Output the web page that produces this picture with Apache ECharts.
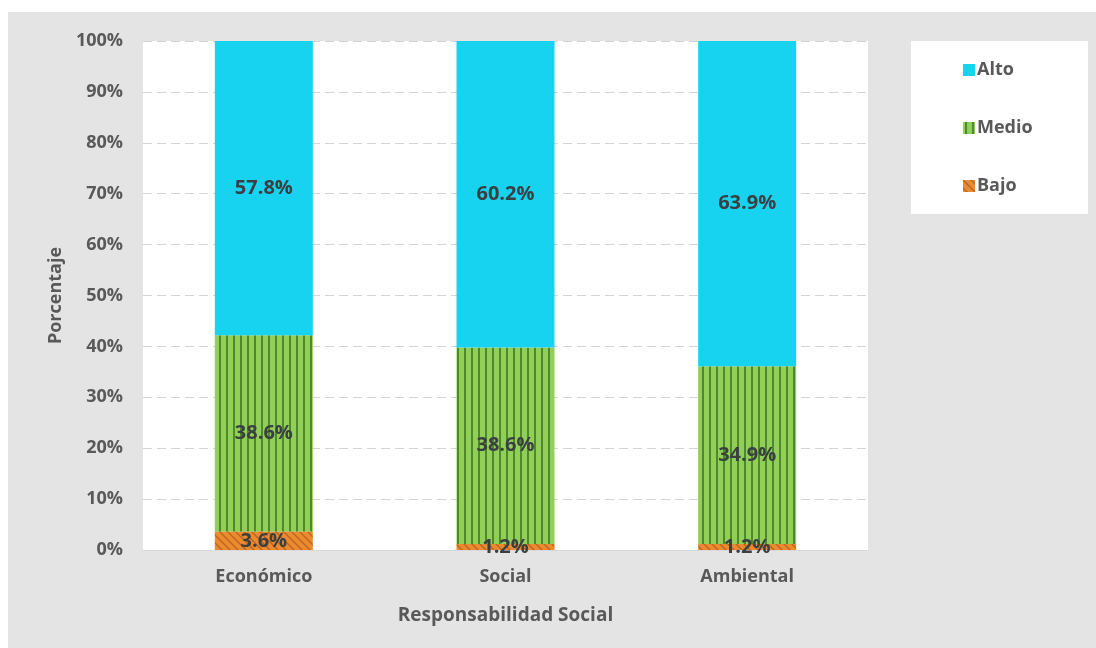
<!DOCTYPE html>
<html><head><meta charset="utf-8">
<script src="https://cdn.jsdelivr.net/npm/echarts@6/dist/echarts.min.js"></script>
<style>html,body{margin:0;padding:0;background:#fff}#c{width:1096px;height:648px}</style>
</head><body><div id="c"></div>
<script>
const categories = ['Económico', 'Social', 'Ambiental'];
const bajo = [3.6, 1.2, 1.2];
const medio = [38.6, 38.6, 34.9];
const alto = [57.8, 60.2, 63.9];
const seriesNames = ['Alto', 'Medio', 'Bajo'];

function stripePattern() {
  const c = document.createElement('canvas');
  c.width = 7; c.height = 7;
  const g = c.getContext('2d');
  g.fillStyle = '#92cf58'; g.fillRect(0, 0, 7, 7);
  g.fillStyle = '#4e8a2c'; g.fillRect(2, 0, 2, 7);
  return c;
}
function hatchPattern() {
  const s = 8;
  const c = document.createElement('canvas');
  c.width = s; c.height = s;
  const g = c.getContext('2d');
  g.fillStyle = '#ec8a30'; g.fillRect(0, 0, s, s);
  g.strokeStyle = '#b8641e'; g.lineWidth = 1.3;
  g.beginPath();
  g.moveTo(0, 0); g.lineTo(s, s);
  g.moveTo(-s, 0); g.lineTo(s, 2 * s);
  g.moveTo(0, -s); g.lineTo(2 * s, s);
  g.stroke();
  return c;
}

const FONT = 'Open Sans';
const labelCfg = {
  show: true, position: 'inside', color: '#3a3f42', fontWeight: 'bold',
  fontSize: 20, fontFamily: FONT,
  formatter: p => p.value.toFixed(1) + '%'
};

const chart = echarts.init(document.getElementById('c'));
chart.setOption({
  backgroundColor: '#ffffff',
  animation: false,
  graphic: [
    { type: 'rect', z: -10, silent: true, shape: { x: 8, y: 12, width: 1088, height: 636 }, style: { fill: '#e4e4e4' } },
    { type: 'rect', z: -5, silent: true, shape: { x: 911, y: 41, width: 177, height: 173 }, style: { fill: '#ffffff' } }
  ],
  grid: { left: 143, right: 228, top: 41, bottom: 98, show: true, backgroundColor: '#ffffff', borderWidth: 0 },
  legend: {
    orient: 'vertical', left: 963, top: 61, itemGap: 40, itemWidth: 12, itemHeight: 12,
    padding: 0, icon: 'rect',
    data: seriesNames,
    textStyle: { color: '#595959', fontSize: 18, fontFamily: FONT, fontWeight: 'bold', padding: [0, 0, 0, -3] }
  },
  xAxis: {
    type: 'category', data: categories,
    name: 'Responsabilidad Social', nameLocation: 'middle', nameGap: 56,
    nameTextStyle: { color: '#595959', fontSize: 19, fontWeight: 'bold', fontFamily: FONT },
    axisLine: { lineStyle: { color: '#d9d9d9' } },
    axisTick: { show: false },
    axisLabel: { color: '#595959', fontSize: 18, fontWeight: 'bold', fontFamily: FONT, margin: 18 }
  },
  yAxis: {
    type: 'value', min: 0, max: 100, interval: 10,
    name: 'Porcentaje', nameLocation: 'middle', nameGap: 78,
    nameTextStyle: { color: '#595959', fontSize: 18, fontWeight: 'bold', fontFamily: FONT },
    axisLine: { show: false }, axisTick: { show: false },
    axisLabel: { color: '#595959', fontSize: 18, fontWeight: 'bold', fontFamily: FONT, margin: 20, formatter: v => v + '%' },
    splitLine: { lineStyle: { color: '#d4d4d4', type: [9, 5] } }
  },
  series: [
    { name: 'Bajo', type: 'bar', stack: 'a', barWidth: 98, data: bajo,
      itemStyle: { color: { image: hatchPattern(), repeat: 'repeat' } }, label: labelCfg, z: 3 },
    { name: 'Medio', type: 'bar', stack: 'a', barWidth: 98, data: medio,
      itemStyle: { color: { image: stripePattern(), repeat: 'repeat' } }, label: labelCfg },
    { name: 'Alto', type: 'bar', stack: 'a', barWidth: 98, data: alto,
      itemStyle: { color: '#17d3ef' }, label: labelCfg }
  ]
});
</script></body></html>
